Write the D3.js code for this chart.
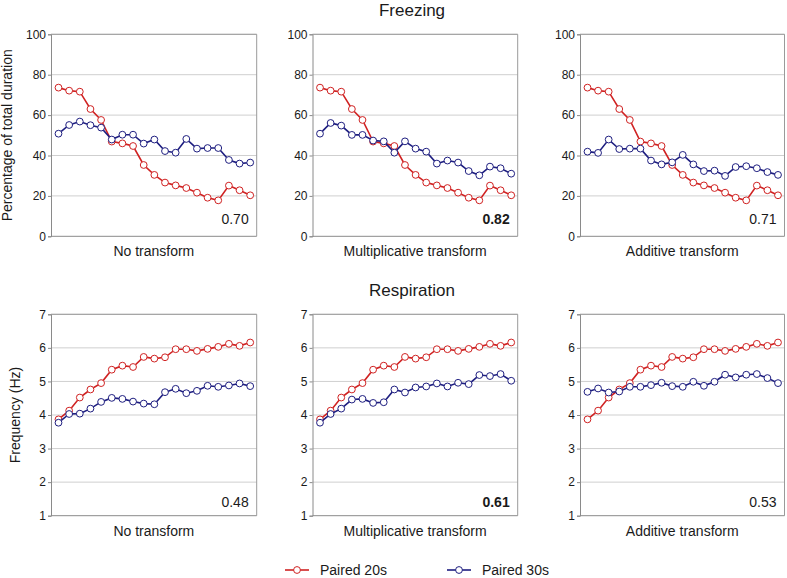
<!DOCTYPE html>
<html lang="en">
<head>
    <meta charset="utf-8">
    <title>Freezing and respiration</title>
    <script src="https://cdn.jsdelivr.net/npm/d3@7"></script>
    <style>
        body { margin: 0; background: #fff; }
        text { font-family: "Liberation Sans", Arial, sans-serif; fill: #1a1a1a; }
    </style>
</head>
<body>
<script type="text/javascript">
    // data, 19 time bins per panel
    var transforms = ["No transform", "Multiplicative transform", "Additive transform"];

    var freezeTicks = [0, 20, 40, 60, 80, 100];
    var respTicks = [1, 2, 3, 4, 5, 6, 7];

    var freezeP20 = [73.6, 72.1, 71.6, 63.0, 57.6, 46.9, 46.0, 44.7, 35.3, 30.4, 26.6, 25.2, 23.9, 21.6, 19.1, 17.8, 25.1, 22.8, 20.3];
    var freezeP30None = [50.8, 55.1, 56.8, 55.0, 53.8, 47.9, 50.3, 50.3, 45.9, 47.9, 42.2, 41.4, 48.2, 43.4, 43.7, 43.7, 37.8, 36.0, 36.5];
    var freezeP30Mult = [50.8, 56.1, 54.8, 50.2, 50.2, 47.4, 47.0, 41.4, 47.0, 43.4, 41.9, 36.0, 37.5, 36.5, 32.3, 30.2, 34.5, 33.7, 31.0];
    var freezeP30Add = [41.9, 41.3, 47.9, 43.2, 43.4, 43.4, 37.5, 35.6, 36.6, 40.3, 35.6, 32.3, 32.5, 29.9, 34.3, 34.7, 33.7, 31.8, 30.4];

    var respP20 = [3.87, 4.13, 4.52, 4.76, 4.95, 5.35, 5.47, 5.43, 5.73, 5.68, 5.72, 5.96, 5.96, 5.91, 5.97, 6.03, 6.12, 6.06, 6.16];
    var respP30None = [3.77, 4.03, 4.04, 4.19, 4.39, 4.51, 4.48, 4.40, 4.34, 4.32, 4.68, 4.78, 4.65, 4.72, 4.87, 4.84, 4.88, 4.94, 4.86];
    var respP30Mult = [3.77, 4.03, 4.19, 4.46, 4.48, 4.36, 4.38, 4.76, 4.67, 4.82, 4.85, 4.94, 4.85, 4.96, 4.92, 5.19, 5.16, 5.22, 5.02];
    var respP30Add = [4.69, 4.79, 4.67, 4.70, 4.84, 4.84, 4.89, 4.96, 4.86, 4.84, 4.99, 4.87, 4.99, 5.20, 5.12, 5.20, 5.22, 5.10, 4.95];

    var freezeR = ["0.70", "0.82", "0.71"];
    var respR = ["0.48", "0.61", "0.53"];

    var seriesNames = ["Paired 20s", "Paired 30s"];
    var colors = ["#d02222", "#1e1e80"];

    var width = 787, height = 578;
    var panelLeft = [51, 312.5, 580];
    var panelRight = [256.7, 517.7, 784.5];

    var rows = [
        {
            title: "Freezing", titleY: 16, top: 34.3, bottom: 236.3,
            domain: [0, 100], ticks: freezeTicks, yLabel: "Percentage of total duration", yLabelX: 12,
            p20: freezeP20, p30: [freezeP30None, freezeP30Mult, freezeP30Add], r: freezeR, rOffset: 12
        },
        {
            title: "Respiration", titleY: 296, top: 314.3, bottom: 515.7,
            domain: [1, 7], ticks: respTicks, yLabel: "Frequency (Hz)", yLabelX: 20,
            p20: respP20, p30: [respP30None, respP30Mult, respP30Add], r: respR, rOffset: 9
        }
    ];

    var svg = d3.select("body")
            .append("svg")
            .attr("width", width)
            .attr("height", height);

    rows.forEach(function(row) {
        svg.append("text")
                .attr("x", 412)
                .attr("y", row.titleY)
                .attr("text-anchor", "middle")
                .attr("font-size", "17px")
                .text(row.title);

        var y = d3.scaleLinear().domain(row.domain).range([row.bottom, row.top]);
        var best = d3.max(row.r.map(Number));

        transforms.forEach(function(name, p) {
            var x = d3.scalePoint()
                    .domain(d3.range(row.p20.length))
                    .range([panelLeft[p] + 7.5, panelRight[p] - 6.5]);

            var g = svg.append("g");

            // gridlines
            g.selectAll("line.grid")
                    .data(row.ticks.slice(1))
                    .enter()
                    .append("line")
                    .attr("x1", panelLeft[p])
                    .attr("x2", panelRight[p])
                    .attr("y1", function(d) { return y(d); })
                    .attr("y2", function(d) { return y(d); })
                    .attr("stroke", "#cfcfcf")
                    .attr("stroke-width", 1);

            // frame on top and right
            g.append("path")
                    .attr("d", "M" + panelLeft[p] + "," + row.top + "H" + panelRight[p] + "V" + row.bottom)
                    .attr("fill", "none")
                    .attr("stroke", "#9a9a9a");

            // bottom axis line
            g.append("line")
                    .attr("x1", panelLeft[p])
                    .attr("x2", panelRight[p])
                    .attr("y1", row.bottom)
                    .attr("y2", row.bottom)
                    .attr("stroke", "#8a8a8a");

            var yAxis = g.append("g")
                    .attr("transform", "translate(" + panelLeft[p] + ",0)")
                    .call(d3.axisLeft(y).tickValues(row.ticks).tickFormat(d3.format("d")).tickSize(3).tickPadding(2));
            yAxis.select(".domain").attr("stroke", "#8a8a8a");
            yAxis.selectAll(".tick line").attr("stroke", "#8a8a8a");
            yAxis.selectAll(".tick text")
                    .attr("font-family", "Liberation Sans, Arial, sans-serif")
                    .attr("font-size", "12px")
                    .attr("fill", "#1a1a1a");

            var line = d3.line()
                    .x(function(d, i) { return x(i); })
                    .y(function(d) { return y(d); });

            [row.p20, row.p30[p]].forEach(function(values, s) {
                g.append("path")
                        .datum(values)
                        .attr("d", line)
                        .attr("fill", "none")
                        .attr("stroke", colors[s])
                        .attr("stroke-width", 1.6);

                g.selectAll("circle.s" + s)
                        .data(values)
                        .enter()
                        .append("circle")
                        .attr("class", "s" + s)
                        .attr("cx", function(d, i) { return x(i); })
                        .attr("cy", function(d) { return y(d); })
                        .attr("r", 3.4)
                        .attr("fill", "#fff")
                        .attr("stroke", colors[s])
                        .attr("stroke-width", 1);
            });

            g.append("text")
                    .attr("x", panelRight[p] - 8)
                    .attr("y", row.bottom - row.rOffset)
                    .attr("text-anchor", "end")
                    .attr("font-size", "14px")
                    .attr("font-weight", +row.r[p] === best ? "bold" : "normal")
                    .text(row.r[p]);

            g.append("text")
                    .attr("x", (panelLeft[p] + panelRight[p]) / 2)
                    .attr("y", row.bottom + 20)
                    .attr("text-anchor", "middle")
                    .attr("font-size", "14px")
                    .text(name);
        });

        svg.append("text")
                .attr("transform", "translate(" + row.yLabelX + "," + ((row.top + row.bottom) / 2) + ") rotate(-90)")
                .attr("text-anchor", "middle")
                .attr("font-size", "14px")
                .text(row.yLabel);
    });

    // legend
    var legendX = [285, 447];
    var legend = svg.selectAll("g.legend")
            .data(seriesNames)
            .enter()
            .append("g")
            .attr("class", "legend")
            .attr("transform", function(d, i) { return "translate(" + legendX[i] + ",570)"; });

    legend.append("line")
            .attr("x1", 0)
            .attr("x2", 24)
            .attr("stroke", function(d, i) { return colors[i]; })
            .attr("stroke-width", 1.6);
    legend.append("circle")
            .attr("cx", 12)
            .attr("r", 3.4)
            .attr("fill", "#fff")
            .attr("stroke", function(d, i) { return colors[i]; });
    legend.append("text")
            .attr("x", 35)
            .attr("y", 5)
            .attr("font-size", "14px")
            .text(function(d) { return d; });
</script>
</body>
</html>
